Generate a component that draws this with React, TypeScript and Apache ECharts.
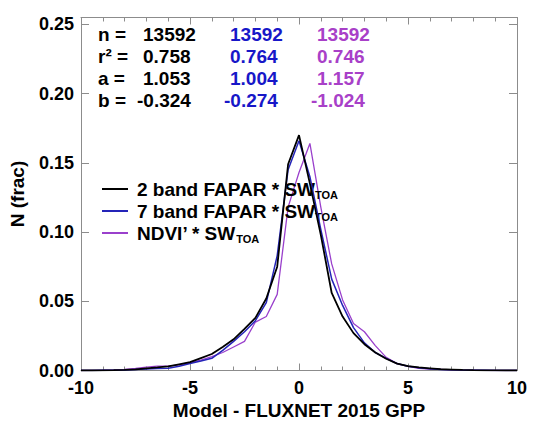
import React, { useEffect, useRef } from 'react';
import * as echarts from 'echarts';

// bin centres (Model - FLUXNET 2015 GPP)
const bins = [
  -10, -9.5, -9, -8.5, -8, -7.5, -7, -6.5, -6, -5.5, -5, -4.5, -4, -3.5, -3, -2.5, -2, -1.5, -1, -0.5,
  0, 0.5, 1, 1.5, 2, 2.5, 3, 3.5, 4, 4.5, 5, 5.5, 6, 6.5, 7, 7.5, 8, 8.5, 9, 9.5, 10,
];

// 2 band FAPAR * SW_TOA (black)
const band2 = [
  0, 0, 0.0001, 0.0002, 0.0004, 0.0008, 0.0015, 0.0022, 0.003, 0.0045, 0.006, 0.009, 0.0119, 0.017, 0.0225, 0.03, 0.038, 0.052, 0.075, 0.149,
  0.17, 0.135, 0.098, 0.056, 0.039, 0.027, 0.019, 0.013, 0.0085, 0.005, 0.0032, 0.0022, 0.0016, 0.001, 0.0007, 0.0004, 0.0002, 0.0001, 0.0001, 0, 0,
];

// 7 band FAPAR * SW_TOA (blue)
const band7 = [
  0, 0, 0.0001, 0.0002, 0.0004, 0.0007, 0.001, 0.0014, 0.0016, 0.003, 0.005, 0.0068, 0.0088, 0.0145, 0.021, 0.028, 0.036, 0.049, 0.083, 0.145,
  0.166, 0.14, 0.102, 0.066, 0.047, 0.031, 0.02, 0.013, 0.0088, 0.005, 0.003, 0.002, 0.0012, 0.0008, 0.0005, 0.0003, 0.0002, 0.0001, 0, 0, 0,
];

// NDVI' * SW_TOA (purple)
const ndvi = [
  0, 0.0001, 0.0002, 0.0004, 0.0008, 0.0015, 0.0025, 0.0032, 0.0032, 0.004, 0.0056, 0.0075, 0.01, 0.013, 0.017, 0.021, 0.035, 0.039, 0.055, 0.118,
  0.143, 0.164, 0.118, 0.077, 0.051, 0.034, 0.028, 0.018, 0.0095, 0.005, 0.003, 0.0015, 0.001, 0.0008, 0.0005, 0.0003, 0.0002, 0.0001, 0, 0, 0,
];

const seriesNames = ['2 band FAPAR * SW', '7 band FAPAR * SW', 'NDVI\u2019 * SW'];
const seriesData = [band2, band7, ndvi];
const seriesColors = ['#000000', '#2424b8', '#9a40cc'];
const seriesWidths = [1.8, 1.5, 1.3];

const statLabels = ['n =', 'r\u00b2 =', 'a =', 'b ='];
const stats2band = ['13592', '0.758', '1.053', '-0.324'];
const stats7band = ['13592', '0.764', '1.004', '-0.274'];
const statsNdvi = ['13592', '0.746', '1.157', '-1.024'];
const statColumns = [stats2band, stats7band, statsNdvi];
const statColors = ['#000000', '#1717c8', '#a840c8'];

const xTitle = 'Model - FLUXNET 2015 GPP';
const yTitle = 'N (frac)';

const FONT = '"Liberation Sans", Arial, Helvetica, sans-serif';

export default function App() {
  const ref = useRef<HTMLDivElement>(null);

  useEffect(() => {
    const chart = echarts.init(ref.current as HTMLDivElement, null, { renderer: 'svg' });

    const axisColor = '#8c8c8c';
    const yLabelFmt = (v: number) => {
      const k = v / 0.05;
      return Math.abs(k - Math.round(k)) < 1e-6 ? v.toFixed(2) : '';
    };

    const baseX = {
      type: 'value' as const,
      min: -10,
      max: 10,
      interval: 5,
      splitLine: { show: false },
      axisLine: { show: true, onZero: false, lineStyle: { color: axisColor, width: 1 } },
      axisTick: { show: true, inside: true, length: 7, lineStyle: { color: axisColor } },
      minorTick: { show: true, splitNumber: 5, length: 4, lineStyle: { color: axisColor } },
      minorSplitLine: { show: false },
    };
    const baseY = {
      type: 'value' as const,
      min: 0,
      max: 0.255,
      interval: 0.05,
      splitLine: { show: false },
      axisLine: { show: true, onZero: false, lineStyle: { color: axisColor, width: 1 } },
      axisTick: { show: true, inside: true, length: 8, lineStyle: { color: axisColor } },
    };

    const graphics: any[] = [];
    const rowY = [34, 56.3, 78.3, 100];
    const colX = [143, 230, 317];
    statLabels.forEach((lab, i) => {
      graphics.push({
        type: 'text',
        x: 98,
        y: rowY[i],
        style: {
          text: lab,
          fill: '#000',
          fontSize: 19,
          fontWeight: 'bold',
          fontFamily: FONT,
          align: 'left',
          verticalAlign: 'middle',
        },
      });
      statColumns.forEach((col, c) => {
        const v = col[i];
        graphics.push({
          type: 'text',
          x: colX[c] - (v.startsWith('-') ? 6 : 0),
          y: rowY[i],
          style: {
            text: v,
            fill: statColors[c],
            fontSize: 19,
            fontWeight: 'bold',
            fontFamily: FONT,
            align: 'left',
            verticalAlign: 'middle',
          },
        });
      });
    });

    const option: any = {
      animation: false,
      backgroundColor: '#ffffff',
      textStyle: { fontFamily: FONT },
      grid: { left: 81, right: 33, top: 17.5, bottom: 58.5, containLabel: false },
      legend: {
        orient: 'vertical',
        left: 97,
        top: 173,
        icon: 'rect',
        itemWidth: 26,
        itemHeight: 2,
        itemGap: 0,
        data: seriesNames,
        formatter: (name: string) => `${name}{sub|TOA}`,
        textStyle: {
          fontSize: 19,
          fontWeight: 'bold',
          color: '#000',
          fontFamily: FONT,
          lineHeight: 22,
          padding: [0, 0, 0, 4],
          rich: {
            sub: {
              fontSize: 11,
              fontWeight: 'bold',
              fontFamily: FONT,
              color: '#000',
              lineHeight: 12,
              verticalAlign: 'bottom',
            },
          },
        },
      },
      xAxis: [
        {
          ...baseX,
          position: 'bottom',
          name: xTitle,
          nameLocation: 'middle',
          nameGap: 28,
          nameTextStyle: { fontSize: 19, fontWeight: 'bold', color: '#000', fontFamily: FONT },
          axisLabel: { show: true, margin: 8, fontSize: 18, fontWeight: 'bold', color: '#000', fontFamily: FONT },
        },
        {
          ...baseX,
          position: 'top',
          axisLabel: { show: false },
        },
      ],
      yAxis: [
        {
          ...baseY,
          position: 'left',
          name: yTitle,
          nameLocation: 'middle',
          nameGap: 54,
          nameTextStyle: { fontSize: 19, fontWeight: 'bold', color: '#000', fontFamily: FONT },
          axisLabel: { show: true, margin: 7, fontSize: 18, fontWeight: 'bold', color: '#000', fontFamily: FONT, formatter: yLabelFmt },
        },
        {
          ...baseY,
          position: 'right',
          axisLabel: { show: false },
        },
      ],
      series: seriesNames.map((name, s) => ({
        name,
        type: 'line',
        xAxisIndex: 0,
        yAxisIndex: 0,
        data: bins.map((b, i) => [b, seriesData[s][i]]),
        showSymbol: false,
        symbol: 'none',
        color: seriesColors[s],
        lineStyle: { color: seriesColors[s], width: seriesWidths[s] },
        z: 5 - s,
      })),
      graphic: graphics,
    };

    chart.setOption(option);
    return () => chart.dispose();
  }, []);

  return (
    <div
      ref={ref}
      style={{ position: 'fixed', left: 0, top: 0, width: 550, height: 429, background: '#fff' }}
    />
  );
}
